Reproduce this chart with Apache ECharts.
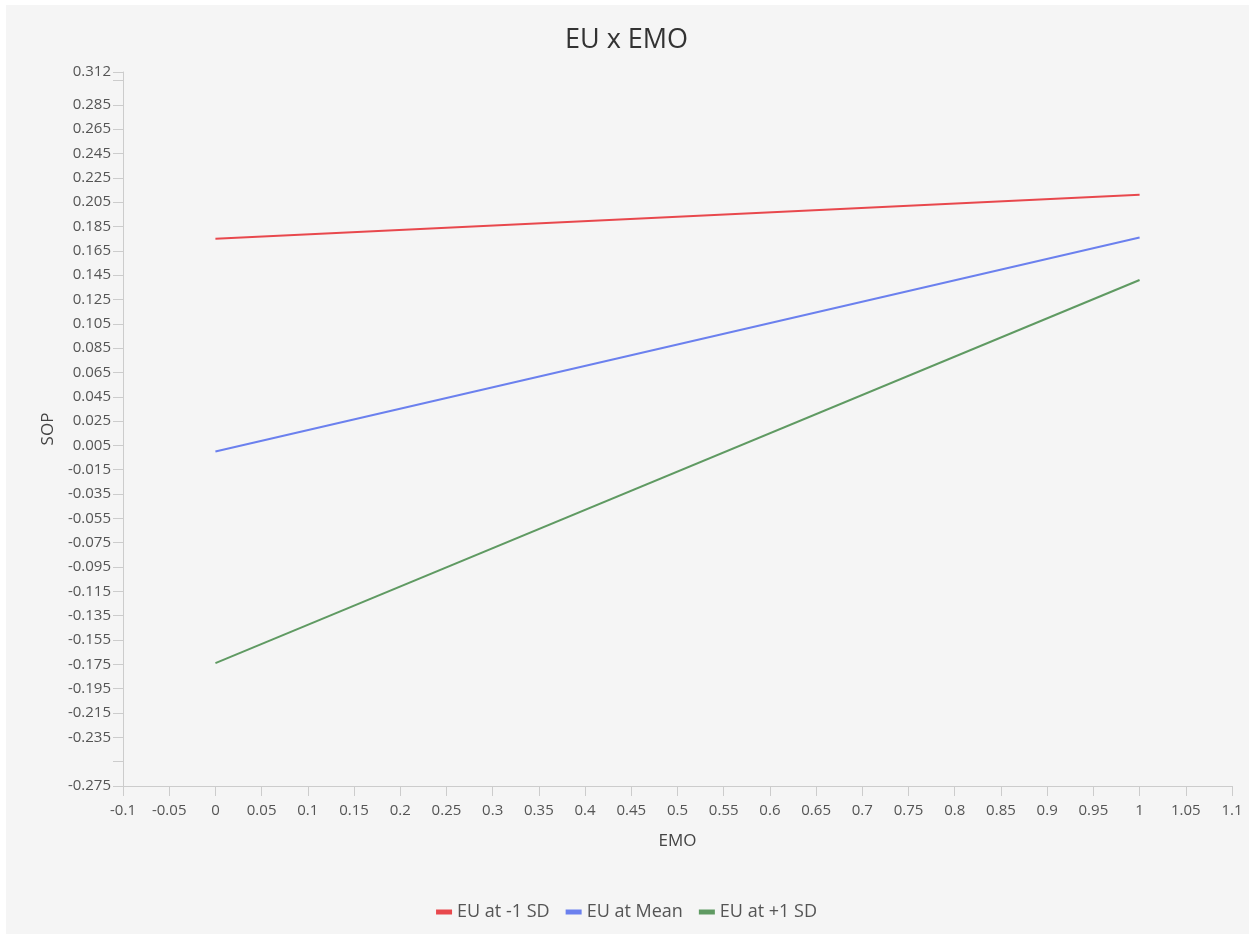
<!DOCTYPE html>
<html>
<head>
<meta charset="utf-8">
<script src="https://cdn.jsdelivr.net/npm/echarts@6/dist/echarts.min.js"></script>
<style>
  html, body { margin: 0; padding: 0; background: #ffffff; }
  #frame { position: absolute; left: 6px; top: 5px; right: 4px; bottom: 4px; background: #f5f5f5; }
  #chart { position: absolute; left: 0; top: 0; width: 1253px; height: 938px; }
</style>
</head>
<body>
<div id="frame"></div>
<div id="chart"></div>
<script>
// Simple slopes of SOP on EMO at three levels of EU
const emoValues = [0, 1];
const seriesNames = ['EU at -1 SD', 'EU at Mean', 'EU at +1 SD'];
const euLow = [0.175, 0.211];
const euMean = [0.0, 0.176];
const euHigh = [-0.174, 0.141];
const seriesColors = ['#e8484d', '#6b80ee', '#5f9a62'];

const yMin = -0.275, yMax = 0.312, yStep = 0.02;
const hiddenYLabels = [-0.255, 0.305];

const chart = echarts.init(document.getElementById('chart'));
const font = '"Open Sans", "Noto Sans", sans-serif';

function toPairs(vals) {
  return emoValues.map((x, i) => [x, vals[i]]);
}

const lines = [euLow, euMean, euHigh].map((vals, i) => ({
  name: seriesNames[i],
  type: 'line',
  data: toPairs(vals),
  showSymbol: false,
  lineStyle: { width: 2, color: seriesColors[i] },
  itemStyle: { color: seriesColors[i] },
  emphasis: { disabled: true }
}));

chart.setOption({
  backgroundColor: 'transparent',
  animation: false,
  title: {
    text: 'EU x EMO',
    left: 'center',
    top: 22,
    textStyle: { fontFamily: font, fontSize: 27, fontWeight: 'normal', color: '#333' }
  },
  legend: {
    top: 898,
    left: 'center',
    icon: 'rect',
    itemWidth: 16,
    itemHeight: 5,
    itemGap: 16,
    textStyle: { fontFamily: font, fontSize: 18, color: '#555' },
    data: seriesNames
  },
  grid: { left: 123, right: 21, top: 72, bottom: 152, containLabel: false },
  xAxis: {
    type: 'value',
    min: -0.1,
    max: 1.1,
    interval: 0.05,
    name: 'EMO',
    nameLocation: 'middle',
    nameGap: 47,
    nameTextStyle: { fontFamily: font, fontSize: 17, color: '#444' },
    axisLine: { show: true, onZero: false, lineStyle: { color: '#ccc' } },
    axisTick: { show: true, length: 10, lineStyle: { color: '#ccc' } },
    axisLabel: {
      fontFamily: font, fontSize: 15, color: '#555', margin: 17,
      formatter: v => String(Math.round(v * 100) / 100)
    },
    splitLine: { show: false }
  },
  yAxis: {
    type: 'value',
    min: yMin,
    max: yMax,
    interval: yStep,
    name: 'SOP',
    nameLocation: 'middle',
    nameGap: 66,
    nameRotate: 90,
    nameTextStyle: { fontFamily: font, fontSize: 17, color: '#444' },
    axisLine: { show: true, onZero: false, lineStyle: { color: '#ccc' } },
    axisTick: { show: true, length: 10, lineStyle: { color: '#ccc' } },
    axisLabel: {
      fontFamily: font, fontSize: 15, color: '#555', margin: 12,
      showMinLabel: true, showMaxLabel: true,
      formatter: v => {
        const r = Math.round(v * 1000) / 1000;
        if (hiddenYLabels.some(h => Math.abs(h - r) < 1e-9)) return '';
        return String(r);
      }
    },
    splitLine: { show: false }
  },
  series: lines
});
</script>
</body>
</html>
